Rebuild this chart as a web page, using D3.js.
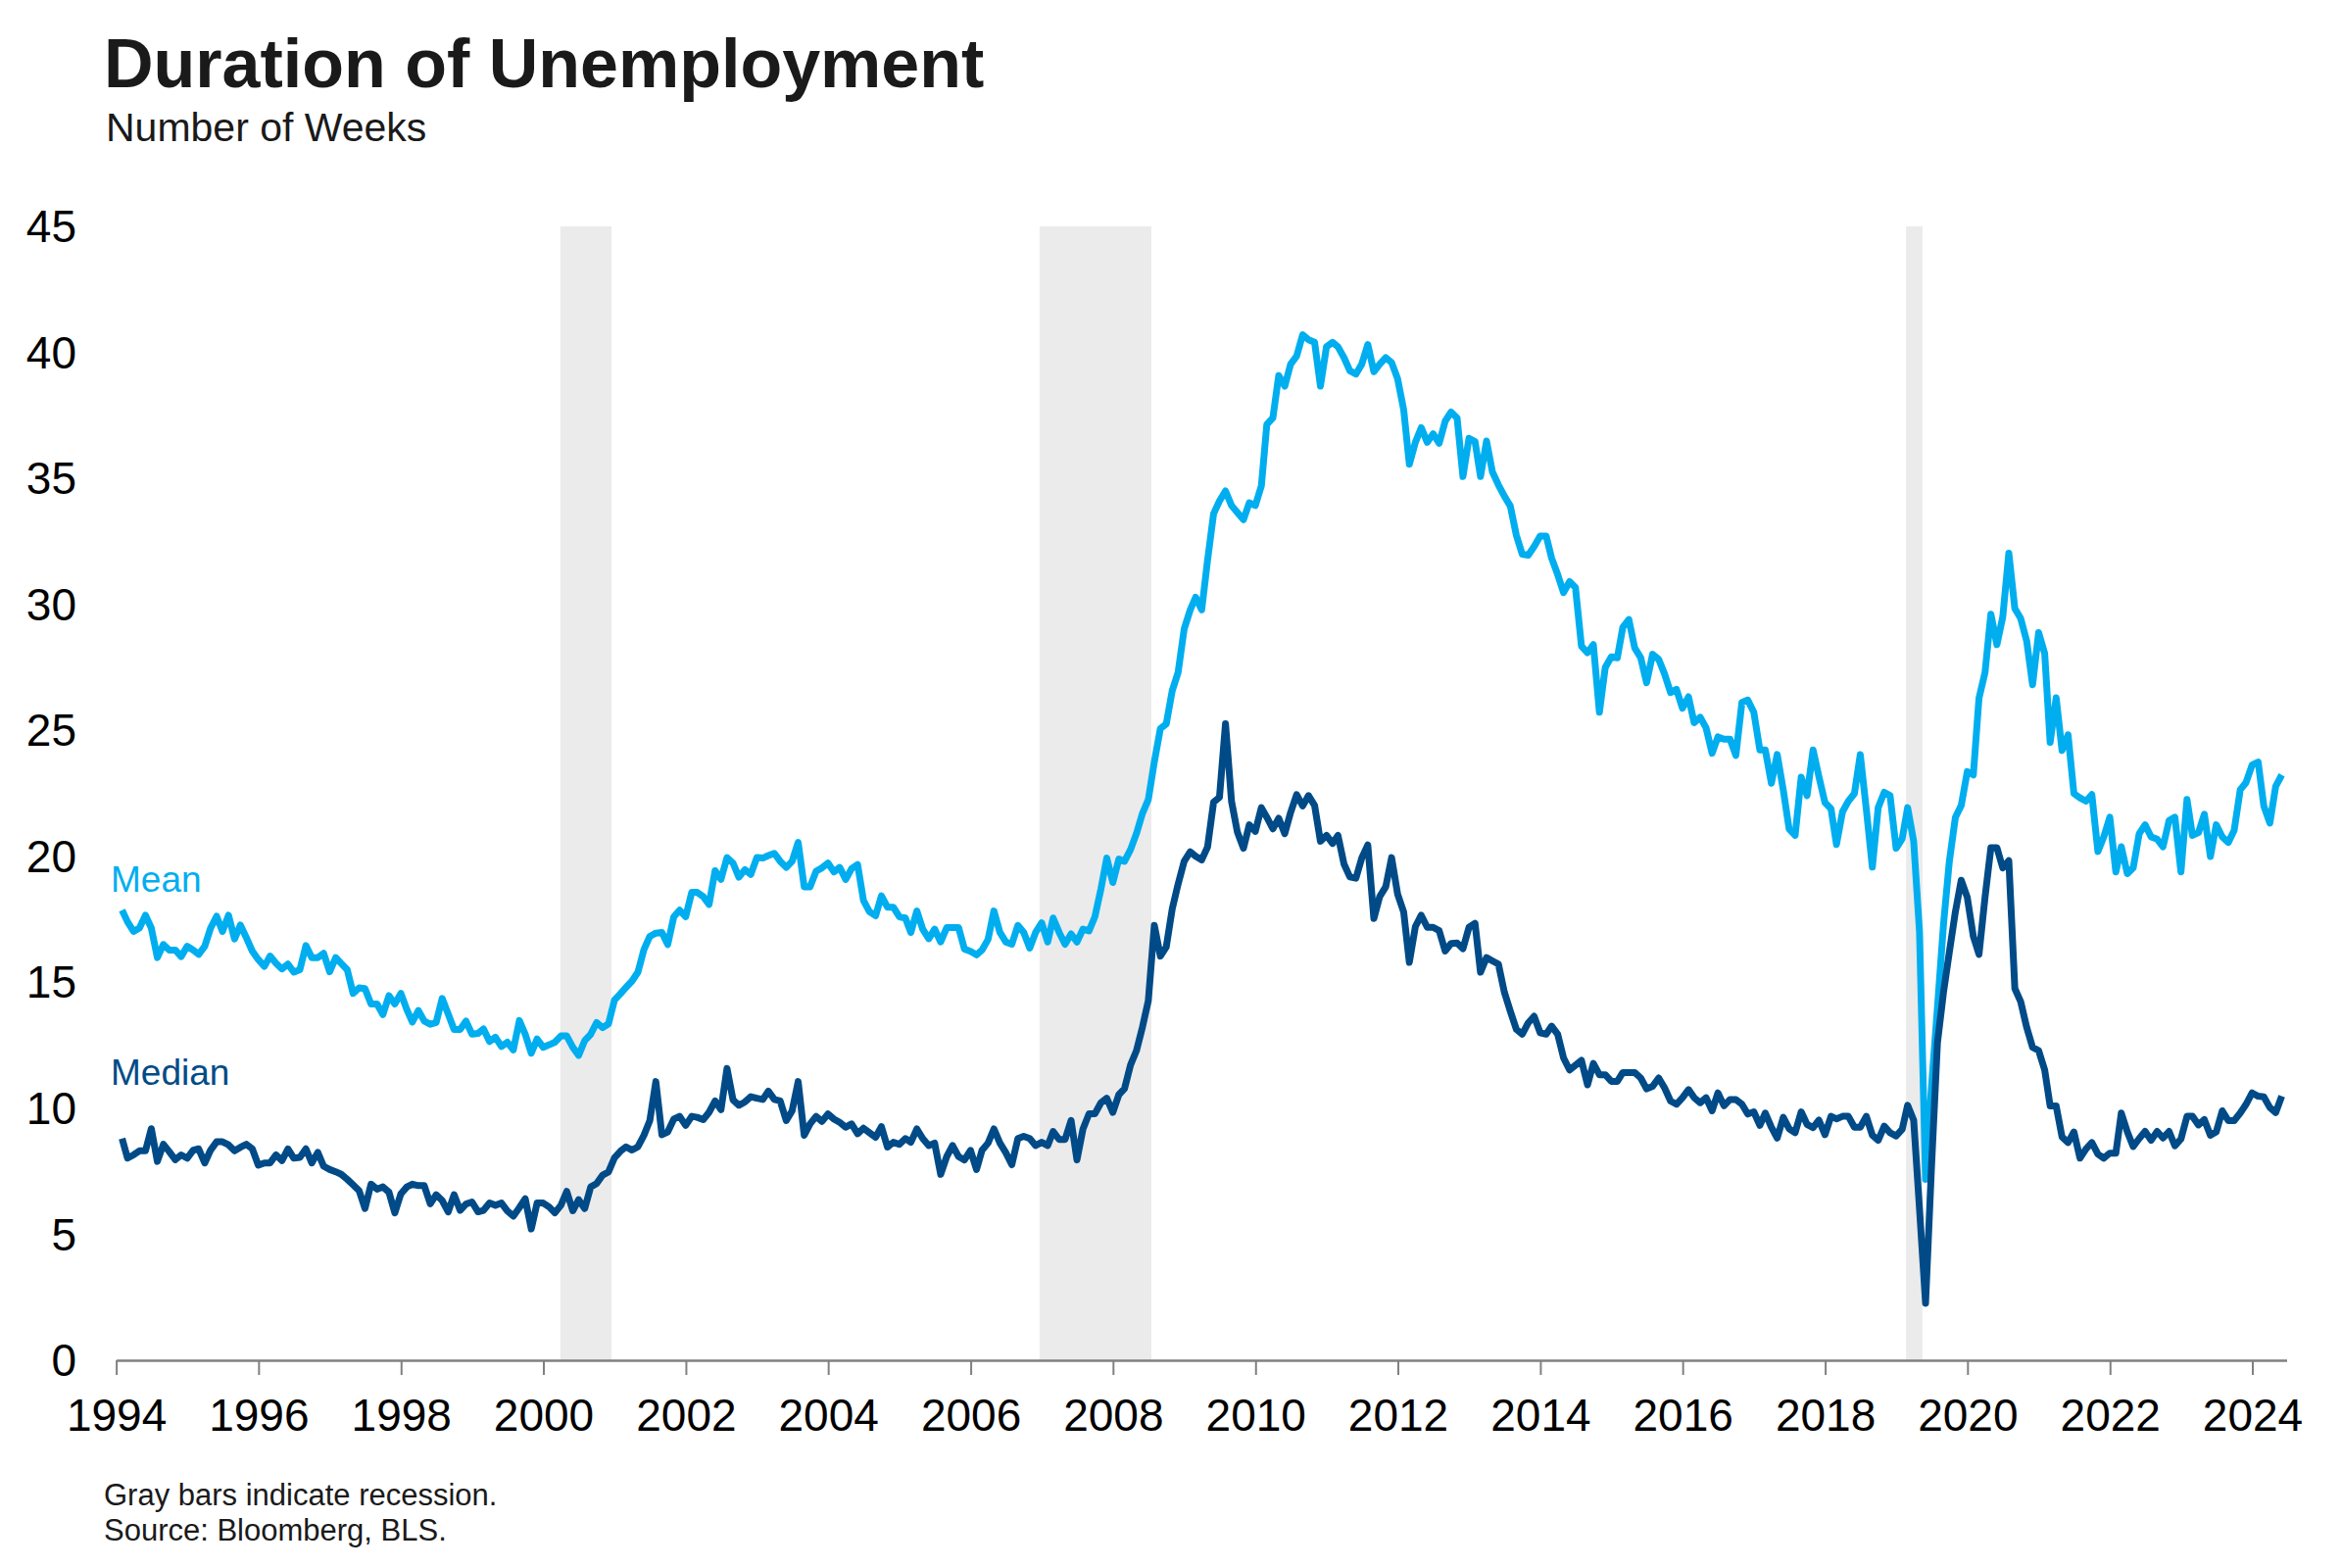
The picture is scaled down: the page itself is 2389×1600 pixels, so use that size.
<!DOCTYPE html>
<html>
<head>
<meta charset="utf-8">
<script src="https://cdn.jsdelivr.net/npm/d3@7"></script>
<style>
  html, body { margin: 0; padding: 0; background: #ffffff; }
  svg { display: block; font-family: "Liberation Sans", Arial, Helvetica, sans-serif; }
</style>
</head>
<body>
<svg id="chart" width="2389" height="1600"></svg>
<script>
// ---------------- DATA (monthly, Jan 1994 .. May 2024, one row per year) ----------------
const startYear = 1994;
const startMonth = 0; // January

const meanWeeks = [
  17.86,17.40,17.02,17.15,17.66,17.15,15.98,16.50,16.28,16.28,16.02,16.43,
  16.28,16.11,16.43,17.15,17.62,17.02,17.66,16.72,17.27,16.76,16.24,15.90,
  15.63,16.04,15.75,15.53,15.72,15.40,15.50,16.46,15.98,15.98,16.15,15.42,
  15.98,15.75,15.50,14.56,14.78,14.75,14.14,14.14,13.72,14.47,14.14,14.56,
  13.91,13.42,13.88,13.46,13.33,13.40,14.36,13.74,13.13,13.13,13.46,12.94,
  12.97,13.15,12.65,12.82,12.45,12.62,12.32,13.48,12.94,12.19,12.75,12.42,
  12.52,12.62,12.87,12.87,12.42,12.10,12.68,12.94,13.40,13.20,13.35,14.30,
  14.55,14.80,15.05,15.40,16.30,16.82,16.95,16.98,16.50,17.60,17.86,17.60,
  18.57,18.57,18.40,18.09,19.43,19.08,19.95,19.73,19.17,19.47,19.28,19.95,
  19.93,20.03,20.12,19.80,19.56,19.80,20.55,18.79,18.79,19.41,19.54,19.73,
  19.38,19.56,19.08,19.51,19.67,18.25,17.80,17.64,18.43,17.98,17.98,17.60,
  17.55,16.98,17.83,17.11,16.73,17.11,16.60,17.17,17.17,17.17,16.32,16.23,
  16.09,16.28,16.70,17.83,16.98,16.60,16.51,17.26,16.98,16.36,16.98,17.36,
  16.60,17.55,16.98,16.51,16.92,16.60,17.11,17.04,17.60,18.70,19.93,18.96,
  19.89,19.80,20.27,20.90,21.70,22.25,23.75,25.07,25.25,26.58,27.30,29.02,
  29.78,30.28,29.78,31.75,33.60,34.10,34.50,33.92,33.64,33.36,34.03,33.92,
  34.70,37.14,37.40,39.08,38.66,39.53,39.85,40.70,40.50,40.40,38.66,40.22,
  40.40,40.22,39.79,39.27,39.14,39.53,40.31,39.23,39.53,39.79,39.60,38.95,
  37.72,35.56,36.43,37.01,36.43,36.77,36.39,37.27,37.63,37.40,35.07,36.59,
  36.46,35.07,36.48,35.26,34.74,34.30,33.90,32.74,31.99,31.95,32.29,32.71,
  32.71,31.83,31.18,30.47,30.90,30.67,28.34,28.08,28.40,25.72,27.50,27.92,
  27.88,29.09,29.40,28.27,27.88,26.89,28.02,27.82,27.24,26.50,26.63,25.88,
  26.33,25.30,25.52,25.10,24.09,24.74,24.65,24.65,24.00,26.11,26.20,25.72,
  24.22,24.22,22.90,24.04,22.64,21.09,20.83,23.14,22.41,24.22,23.16,22.13,
  21.89,20.47,21.77,22.19,22.49,24.04,21.87,19.57,21.93,22.54,22.41,20.32,
  20.70,21.93,20.60,17.00, 7.18,10.80,14.00,17.30,19.80,21.55,22.02,23.36,
  23.23,26.27,27.30,29.61,28.40,29.50,32.03,29.83,29.44,28.53,26.81,28.88,
  28.05,24.52,26.29,24.20,24.82,22.49,22.32,22.19,22.45,20.19,20.77,21.55,
  19.38,20.38,19.31,19.54,20.90,21.25,20.77,20.68,20.38,21.42,21.55,19.38,
  22.26,20.83,20.94,21.67,19.99,21.25,20.77,20.55,21.03,22.64,22.93,23.62,
  23.74,22.00,21.32,22.78,23.23
];

const medianWeeks = [
   8.80, 8.02, 8.15, 8.31, 8.31, 9.19, 7.89, 8.57, 8.28, 7.96, 8.15, 8.02,
   8.34, 8.39, 7.83, 8.34, 8.67, 8.67, 8.55, 8.31, 8.45, 8.57, 8.39, 7.74,
   7.83, 7.83, 8.15, 7.92, 8.39, 8.02, 8.05, 8.39, 7.83, 8.25, 7.70, 7.57,
   7.48, 7.38, 7.18, 6.96, 6.73, 6.02, 6.99, 6.79, 6.88, 6.67, 5.85, 6.60,
   6.88, 6.99, 6.93, 6.93, 6.21, 6.57, 6.34, 5.89, 6.57, 5.95, 6.20, 6.28,
   5.89, 5.95, 6.24, 6.15, 6.24, 5.93, 5.72, 6.06, 6.41, 5.21, 6.24, 6.24,
   6.08, 5.85, 6.15, 6.70, 5.93, 6.37, 6.02, 6.88, 7.01, 7.35, 7.47, 8.04,
   8.30, 8.47, 8.34, 8.47, 8.93, 9.51,11.06, 8.95, 9.06, 9.57, 9.68, 9.32,
   9.68, 9.64, 9.55, 9.84,10.29, 9.94,11.58,10.33,10.12,10.25,10.46,10.40,
  10.35,10.68,10.35,10.29, 9.51, 9.90,11.06, 8.93, 9.38, 9.68, 9.48, 9.77,
   9.57, 9.44, 9.25, 9.38, 8.99, 9.21, 9.03, 8.85, 9.27, 8.46, 8.65, 8.57,
   8.80, 8.65, 9.18, 8.80, 8.52, 8.62, 7.38, 8.08, 8.52, 8.08, 7.95, 8.33,
   7.57, 8.33, 8.62, 9.18, 8.62, 8.24, 7.76, 8.80, 8.89, 8.80, 8.52, 8.65,
   8.52, 9.08, 8.76, 8.76, 9.52, 7.95, 9.18, 9.78, 9.78,10.22,10.40, 9.84,
  10.54,10.78,11.72,12.28,13.22,14.26,17.26,16.04,16.40,17.92,18.90,19.80,
  20.18,20.00,19.86,20.37,22.15,22.34,25.26,22.18,20.96,20.32,21.25,20.99,
  21.93,21.55,21.09,21.51,20.90,21.74,22.45,22.00,22.41,22.02,20.60,20.83,
  20.51,20.83,19.69,19.18,19.13,19.93,20.45,17.53,18.40,18.79,19.95,18.50,
  17.79,15.79,17.21,17.66,17.18,17.18,17.05,16.24,16.54,16.56,16.33,17.18,
  17.34,15.40,15.98,15.85,15.72,14.62,13.85,13.13,12.94,13.39,13.65,13.00,
  12.94,13.26,12.94,12.00,11.52,11.71,11.90,10.93,11.78,11.33,11.33,11.07,
  11.07,11.42,11.42,11.42,11.20,10.77,10.87,11.20,10.81,10.29,10.16,10.42,
  10.74,10.42,10.22,10.42, 9.90,10.61,10.10,10.35,10.35,10.16, 9.77, 9.86,
   9.32, 9.81, 9.25, 8.82, 9.64, 9.19, 9.03, 9.86, 9.36, 9.23, 9.53, 8.95,
   9.68, 9.58, 9.68, 9.68, 9.25, 9.25, 9.68, 8.93, 8.73, 9.29, 9.03, 8.90,
   9.16,10.12, 9.53, 6.00, 2.26, 7.60,12.60,14.60,16.20,17.80,19.05,18.37,
  16.82,16.11,18.37,20.34,20.34,19.54,19.83,14.75,14.23,13.20,12.42,12.29,
  11.52,10.09,10.09, 8.86, 8.64, 9.06, 8.02, 8.39, 8.64, 8.18, 8.02, 8.22,
   8.22, 9.81, 9.06, 8.48, 8.80, 9.08, 8.73, 9.08, 8.82, 9.08, 8.51, 8.78,
   9.68, 9.68, 9.34, 9.55, 8.93, 9.06, 9.90, 9.51, 9.51, 9.81,10.16,10.61,
  10.48,10.45,10.03, 9.83,10.48
];

// recession shading periods (as placed on the chart's time axis)
const recessionStarts = ["2000-03-28", "2006-12-20", "2019-02-20"];
const recessionEnds   = ["2000-12-16", "2008-07-16", "2019-05-15"];

const yearTicks  = [1994,1996,1998,2000,2002,2004,2006,2008,2010,2012,2014,2016,2018,2020,2022,2024];
const valueTicks = [0,5,10,15,20,25,30,35,40,45];

const titleText    = "Duration of Unemployment";
const subtitleText = "Number of Weeks";
const footnotes    = ["Gray bars indicate recession.", "Source: Bloomberg, BLS."];
const seriesNames  = ["Mean", "Median"];

// ---------------- LAYOUT / STYLE ----------------
const meanColor = "#00aeef";
const medianColor = "#004b87";
const recessionColor = "#ebebeb";
const axisColor = "#808080";

const svg = d3.select("#chart");

const x = d3.scaleTime()
  .domain([new Date(1994, 0, 1), new Date(2024, 5, 25)])
  .range([118.6, 2333.5]);

const y = d3.scaleLinear()
  .domain([0, 45])
  .range([1388, 231]);

const parse = d3.timeParse("%Y-%m-%d");
const monthEnd = i => new Date(startYear, startMonth + i + 1, 0);

const meanData = meanWeeks.map((v, i) => ({ date: monthEnd(i), value: v }));
const medianData = medianWeeks.map((v, i) => ({ date: monthEnd(i), value: v }));

// recession bars
svg.append("g")
  .selectAll("rect")
  .data(recessionStarts.map((s, i) => ({ start: parse(s), end: parse(recessionEnds[i]) })))
  .join("rect")
  .attr("x", d => x(d.start))
  .attr("width", d => x(d.end) - x(d.start))
  .attr("y", y(45))
  .attr("height", y(0) - y(45))
  .attr("fill", recessionColor);

// x axis
const xAxis = d3.axisBottom(x)
  .tickValues(yearTicks.map(yr => new Date(yr, 0, 1)))
  .tickFormat(d3.timeFormat("%Y"))
  .tickSize(15)
  .tickSizeOuter(0)
  .tickPadding(24);

const gx = svg.append("g")
  .attr("transform", `translate(0,${y(0)})`)
  .call(xAxis);
gx.select(".domain").attr("stroke", axisColor).attr("stroke-width", 2.5);
gx.selectAll(".tick line").attr("stroke", axisColor).attr("stroke-width", 2);
gx.selectAll(".tick text")
  .attr("fill", "#000")
  .style("font-size", "46px")
  .style("font-family", "'Liberation Sans', Arial, sans-serif");

// y labels (no axis line)
svg.append("g")
  .selectAll("text")
  .data(valueTicks)
  .join("text")
  .attr("x", 78)
  .attr("y", d => y(d))
  .attr("dy", "0.35em")
  .attr("text-anchor", "end")
  .attr("fill", "#000")
  .style("font-size", "46px")
  .text(d => d);

// lines
const line = d3.line()
  .x(d => x(d.date))
  .y(d => y(d.value));

svg.append("path")
  .datum(meanData)
  .attr("fill", "none")
  .attr("stroke", meanColor)
  .attr("stroke-width", 7)
  .attr("stroke-linejoin", "round")
  .attr("d", line);

svg.append("path")
  .datum(medianData)
  .attr("fill", "none")
  .attr("stroke", medianColor)
  .attr("stroke-width", 7)
  .attr("stroke-linejoin", "round")
  .attr("d", line);

// series labels
svg.append("text")
  .attr("x", 113).attr("y", 910)
  .attr("fill", meanColor)
  .style("font-size", "37px")
  .text(seriesNames[0]);

svg.append("text")
  .attr("x", 113).attr("y", 1107)
  .attr("fill", medianColor)
  .style("font-size", "37px")
  .text(seriesNames[1]);

// title & subtitle
svg.append("text")
  .attr("x", 106).attr("y", 89)
  .attr("fill", "#1a1a1a")
  .style("font-size", "70px")
  .style("font-weight", "bold")
  .text(titleText);

svg.append("text")
  .attr("x", 108).attr("y", 144)
  .attr("fill", "#1a1a1a")
  .style("font-size", "41px")
  .text(subtitleText);

// footnotes
svg.append("g")
  .selectAll("text")
  .data(footnotes)
  .join("text")
  .attr("x", 106)
  .attr("y", (d, i) => 1536 + i * 36)
  .attr("fill", "#1a1a1a")
  .style("font-size", "31px")
  .text(d => d);
</script>
</body>
</html>
